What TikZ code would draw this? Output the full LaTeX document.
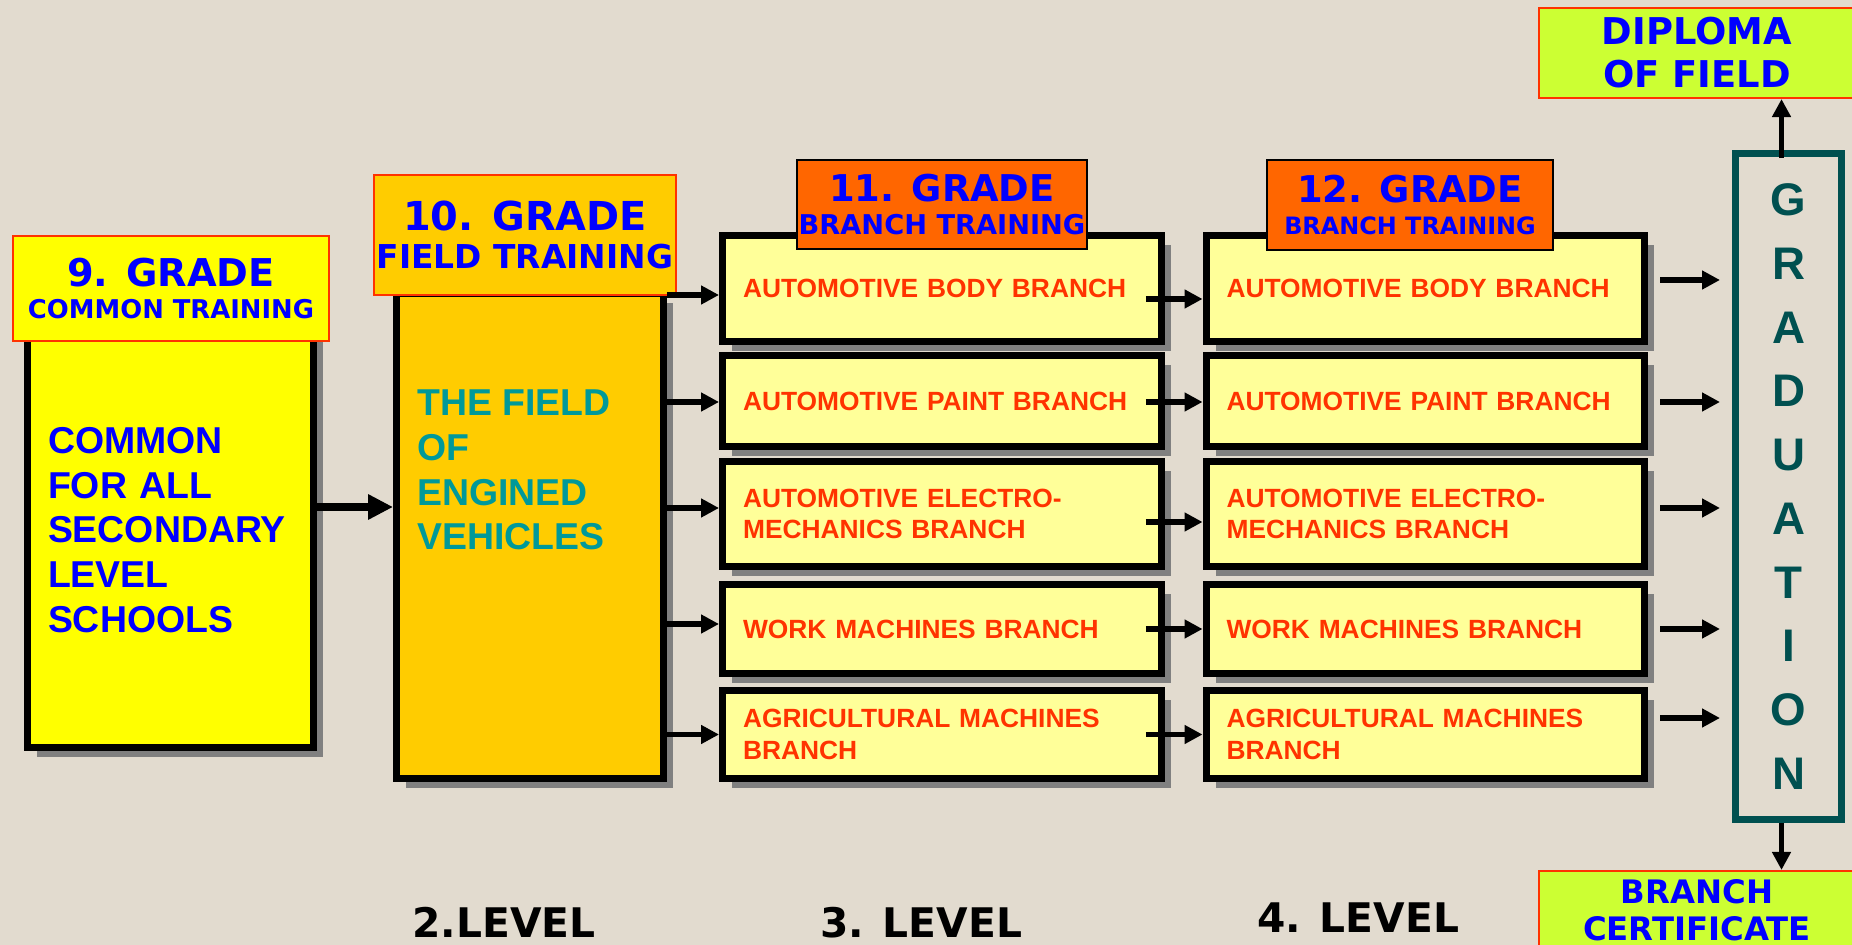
\documentclass[tikz,border=0pt]{standalone}
\usepackage{fontspec}
\setmainfont{Liberation Sans}
\newfontfamily\verd{DejaVu Sans}
\usetikzlibrary{arrows.meta,positioning,calc,shadows}
\definecolor{vtbeige}{HTML}{E2DBCF}
\definecolor{vtyellow}{HTML}{FFFF00}
\definecolor{vtgold}{HTML}{FFCC00}
\definecolor{vtpale}{HTML}{FFFF99}
\definecolor{vtorange}{HTML}{FF6600}
\definecolor{vtlime}{HTML}{CCFF33}
\definecolor{vtred}{HTML}{FF3300}
\definecolor{vtblue}{HTML}{0000FF}
\definecolor{vtteal}{HTML}{009999}
\definecolor{vtdark}{HTML}{005050}
\definecolor{vtgray}{HTML}{808080}

\begin{document}
\begin{tikzpicture}[x=0.02cm, y=-0.02cm,
  thickbox/.style={draw=black, line width=4pt,
    drop shadow={shadow xshift=0.19cm, shadow yshift=-0.19cm, fill=vtgray, opacity=1}},
  rowbox/.style={thickbox, fill=vtpale, minimum width=8.78cm, text width=7.96cm,
    align=left, text=vtred, font=\fontsize{15}{18.1}\selectfont\bfseries},
  gradehead/.style={draw=#1, line width=1.2pt, inner sep=1pt, text=vtblue, align=center},
  levellabel/.style={anchor=base, font=\verd\bfseries\fontsize{23.2}{28}\selectfont},
  arr/.style={line width=3pt, -{Triangle[length=0.36cm, width=0.36cm]}},
  bigarr/.style={line width=5pt, -{Triangle[length=0.5cm, width=0.48cm]}}]

  % ---- Background ----
  \fill[vtbeige] (0,0) rectangle (1852,945);
  \useasboundingbox (0,0) rectangle (1852,945);

  % ---- 9. GRADE (common training) ----
  \node[thickbox, fill=vtyellow, minimum width=5.72cm, minimum height=8.70cm,
    text width=4.9cm, align=left, text=vtblue,
    font=\fontsize{21.3}{25.4}\selectfont\bfseries] (common) at (170.5,530)
    {COMMON\\FOR ALL\\SECONDARY\\LEVEL\\SCHOOLS};
  \node[gradehead=vtred, fill=vtyellow, minimum width=6.32cm, minimum height=2.10cm,
    font=\verd\bfseries\fontsize{14.7}{18.7}\selectfont] (g9) at (171,288.5)
    {\fontsize{21.8}{22}\selectfont 9. GRADE\\COMMON TRAINING};

  % ---- 10. GRADE (field training) ----
  \node[thickbox, fill=vtgold, minimum width=5.34cm, minimum height=9.70cm] (field) at (530,536) {};
  \node[anchor=west, inner sep=0pt, align=left, text=vtteal,
    font=\fontsize{21.3}{25.4}\selectfont\bfseries] (fieldtext) at (417,470)
    {THE FIELD\\OF\\ENGINED\\VEHICLES};
  \node[gradehead=vtred, fill=vtgold, minimum width=6.04cm, minimum height=2.40cm,
    font=\verd\bfseries\fontsize{18.7}{21.5}\selectfont] (g10) at (525,235)
    {\fontsize{22.7}{23}\selectfont 10. GRADE\\FIELD TRAINING};

  % ---- 11. and 12. GRADE branches ----
  \foreach \r/\y/\h/\txt in {a/288.5/2.12/{AUTOMOTIVE BODY BRANCH},
      b/401/1.82/{AUTOMOTIVE PAINT BRANCH},
      c/514/2.10/{AUTOMOTIVE ELECTRO-\\MECHANICS BRANCH},
      d/629/1.78/{WORK MACHINES BRANCH},
      e/734.5/1.76/{AGRICULTURAL MACHINES\\BRANCH}} {
    \node[rowbox, minimum height=\h cm] (br11\r) at (942,\y) {\txt};
    \node[rowbox, minimum height=\h cm] (br12\r) at (1425.5,\y) {\txt};
  }
  \node[gradehead=black, fill=vtorange, minimum width=5.72cm, minimum height=1.78cm,
    font=\verd\bfseries\fontsize{15.5}{19.3}\selectfont] (g11) at (942,204.5)
    {\fontsize{21}{21}\selectfont 11. GRADE\\BRANCH TRAINING};
  \node[gradehead=black, fill=vtorange, minimum width=5.72cm, minimum height=1.80cm,
    font=\verd\bfseries\fontsize{13.6}{18.7}\selectfont] (g12) at (1410,205)
    {\fontsize{21}{21}\selectfont 12. GRADE\\BRANCH TRAINING};

  % ---- Graduation and its outcomes ----
  \node[draw=vtdark, line width=4pt, minimum width=2.12cm, minimum height=13.32cm,
    align=center, text=vtdark, font=\fontsize{26}{36.3}\selectfont\bfseries]
    (grad) at (1788.5,486.5) {G\\R\\A\\D\\U\\A\\T\\I\\O\\N};
  \node[gradehead=vtred, fill=vtlime, minimum width=6.32cm, minimum height=1.80cm,
    font=\verd\bfseries\fontsize{21}{24.4}\selectfont] (diploma) at (1697,53)
    {DIPLOMA\\OF FIELD};
  \node[gradehead=vtred, fill=vtlime, minimum width=6.32cm, minimum height=1.56cm,
    font=\verd\bfseries\fontsize{18.4}{21}\selectfont] (cert) at (1697,910)
    {BRANCH\\CERTIFICATE};

  % ---- Arrows ----
  \draw[bigarr] ($(common.east)+(0,-23)$) -- ($(common.east -| field.west)+(0,-23)$);
  \foreach \r/\da/\db/\dc in {a/6.5/10.5/-8.5, b/1/1/1, c/-6/8/-6, d/-5/0/0, e/0/0/-16.5} {
    \draw[arr] ($(field.east |- br11\r.west)+(0,\da)$) -- ($(br11\r.west)+(0,\da)$);
    \draw[arr] ($(br11\r.east)+(-19,\db)$) -- ($(br12\r.west)+(0,\db)$);
    \draw[arr] ($(br12\r.east)+(12,\dc)$) -- ($(grad.west |- br12\r.east)+(-12,\dc)$);
  }
  \draw[arr] ($(grad.north)+(-7,8)$) -- ($(grad.north |- diploma.south)+(-7,0)$);
  \draw[arr] ($(grad.south)+(-7,0)$) -- ($(grad.south |- cert.north)+(-7,0)$);

  % ---- Level captions ----
  \node[levellabel] (lv2) at (504,937) {2.LEVEL};
  \node[levellabel] (lv3) at (921,937) {3. LEVEL};
  \node[levellabel] (lv4) at (1358,932) {4. LEVEL};

\end{tikzpicture}
\end{document}
